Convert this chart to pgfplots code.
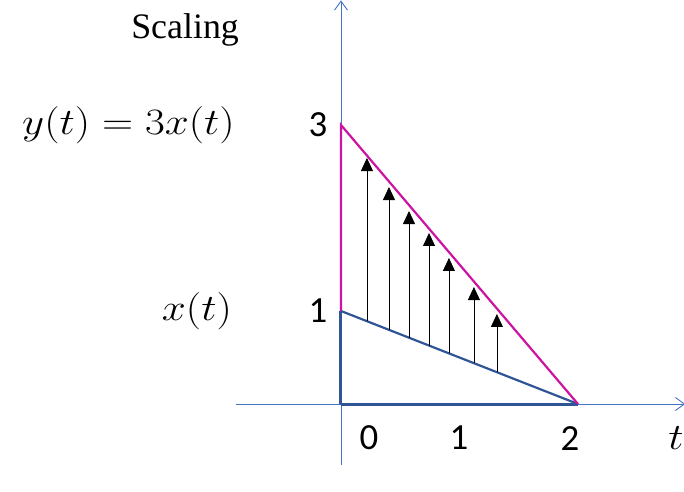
\documentclass[border=0pt]{standalone}
\usepackage{graphicx}
\usepackage{pgfplots}
\pgfplotsset{compat=1.18}
\usepackage{fontspec}
\setmainfont{Liberation Serif}
\newfontfamily\calib{Carlito}
\usetikzlibrary{arrows.meta}
\definecolor{mag}{RGB}{204,20,160}
\definecolor{dblue}{RGB}{47,85,151}
\definecolor{lblue}{RGB}{68,114,196}
\newcommand{\bigmath}[1]{{\fontsize{24.88}{30}\selectfont\scalebox{1.74}[1.5]{$#1$}}}
\begin{document}
\begin{tikzpicture}
\begin{axis}[
  hide axis, scale only axis, width=684bp, height=492bp,
  xmin=-2.878, xmax=2.895, ymin=-0.946, ymax=4.344,
  clip=true,
]
\path (rel axis cs:0,0) rectangle (rel axis cs:1,1);
% axes
\addplot[lblue, line width=0.9bp, -{Straight Barb[length=9bp,width=13bp]}] coordinates {(0,-0.656) (0,4.34)};
\addplot[lblue, line width=0.9bp, -{Straight Barb[length=9bp,width=13bp]}] coordinates {(-0.886,0) (2.905,0)};
% x(t)
\addplot[dblue, line width=2.2bp] coordinates {(0,1) (2,0)};
\addplot[dblue, line width=3bp] coordinates {(0,0) (0,1)};
\addplot[dblue, line width=3bp] coordinates {(0,0) (2,0)};
% y(t)
\addplot[mag, line width=2.2bp] coordinates {(0,1) (0,3) (2,0)};
% scaling arrows
\addplot[black, line width=0.8bp, -{Triangle[length=13bp,width=12bp]}] coordinates {(0.219,0.890) (0.219,2.645)};
\addplot[black, line width=0.8bp, -{Triangle[length=13bp,width=12bp]}] coordinates {(0.405,0.797) (0.405,2.333)};
\addplot[black, line width=0.8bp, -{Triangle[length=13bp,width=12bp]}] coordinates {(0.574,0.713) (0.574,2.075)};
\addplot[black, line width=0.8bp, -{Triangle[length=13bp,width=12bp]}] coordinates {(0.743,0.628) (0.743,1.839)};
\addplot[black, line width=0.8bp, -{Triangle[length=13bp,width=12bp]}] coordinates {(0.911,0.544) (0.911,1.570)};
\addplot[black, line width=0.8bp, -{Triangle[length=13bp,width=12bp]}] coordinates {(1.122,0.439) (1.122,1.258)};
\addplot[black, line width=0.8bp, -{Triangle[length=13bp,width=12bp]}] coordinates {(1.316,0.342) (1.316,0.968)};
% labels
\node[font=\fontsize{36}{40}\selectfont] at (axis cs:-1.316,4.022) {Scaling};
\node[anchor=east, inner sep=0pt] at (axis cs:-0.895,3.0) {\bigmath{y(t)=3x(t)}};
\node[anchor=east, inner sep=0pt] at (axis cs:-0.92,1.0) {\bigmath{x(t)}};
\node[font=\calib\fontsize{37}{40}\selectfont] at (axis cs:-0.194,3.0) {3};
\node[font=\calib\fontsize{37}{40}\selectfont] at (axis cs:-0.194,1.0) {1};
\node[font=\calib\fontsize{37}{40}\selectfont] at (axis cs:0.236,-0.366) {0};
\node[font=\calib\fontsize{37}{40}\selectfont] at (axis cs:0.996,-0.366) {1};
\node[font=\calib\fontsize{37}{40}\selectfont] at (axis cs:1.932,-0.366) {2};
\node at (axis cs:2.827,-0.366) {\bigmath{t}};
\end{axis}
\end{tikzpicture}
\end{document}
